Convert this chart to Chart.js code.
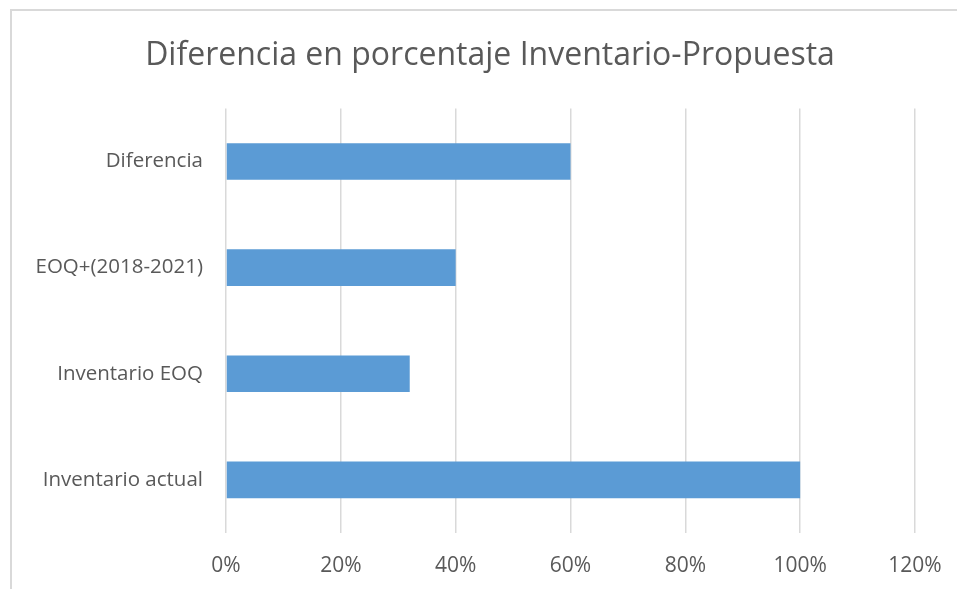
<!DOCTYPE html>
<html>
<head>
<meta charset="utf-8">
<script src="https://cdn.jsdelivr.net/npm/chart.js@4/dist/chart.umd.min.js"></script>
<style>
    html, body { margin: 0; padding: 0; background: #ffffff; overflow: hidden; }
    #frame {
        position: absolute; left: 10px; top: 9px; width: 1200px; height: 900px;
        border-left: 2px solid #d9d9d9; border-top: 2px solid #d9d9d9;
    }
    #wrap { position: absolute; left: 0; top: 0; width: 957px; height: 589px; }
</style>
</head>
<body>
<div id="frame"></div>
<div id="wrap"><canvas id="diffChart" width="957" height="589"></canvas></div>
<script>
    // chart data, top to bottom as in the picture
    const categories = ["Diferencia", "EOQ+(2018-2021)", "Inventario EOQ", "Inventario actual"];
    const percentValues = [60, 40, 32, 100];
    const tickLabels = ["0%", "20%", "40%", "60%", "80%", "100%", "120%"];

    const textColor = "#595959";
    const fontFamily = "'Open Sans', 'Liberation Sans', sans-serif";

    // the original chart frame is wider than the screenshot, so centre the title over it
    const widenTitle = {
        id: "widenTitle",
        afterLayout(chart) {
            const t = chart.titleBlock;
            if (t) {
                t.left = 0;
                t.right = 980;
                t.width = 980;
            }
        }
    };

    const ctx = document.getElementById("diffChart").getContext("2d");
    new Chart(ctx, {
        type: "bar",
        data: {
            labels: categories,
            datasets: [{
                data: percentValues,
                backgroundColor: "#5b9bd5",
                borderWidth: 0,
                categoryPercentage: 1,
                barPercentage: 0.345
            }]
        },
        options: {
            indexAxis: "y",
            responsive: false,
            animation: false,
            layout: { padding: { left: 0, right: 42, top: 0, bottom: 0 } },
            plugins: {
                legend: { display: false },
                tooltip: { enabled: false },
                title: {
                    display: true,
                    text: "Diferencia en porcentaje Inventario-Propuesta",
                    color: textColor,
                    font: { family: fontFamily, size: 32, weight: "normal" },
                    padding: { top: 37, bottom: 33 }
                }
            },
            scales: {
                x: {
                    min: 0,
                    max: 120,
                    ticks: {
                        stepSize: 20,
                        color: textColor,
                        padding: 20,
                        font: { family: fontFamily, size: 21 },
                        callback: (value, i) => tickLabels[i]
                    },
                    grid: { color: "#d9d9d9", lineWidth: 1.5, drawTicks: false },
                    border: { display: false },
                    afterFit: scale => {
                        scale.height = 56;
                        scale.paddingLeft = 0;
                        scale.paddingRight = 0;
                    }
                },
                y: {
                    ticks: {
                        color: textColor,
                        padding: 23,
                        font: { family: fontFamily, size: 20.5 }
                    },
                    grid: { display: false, drawTicks: false },
                    border: { display: false },
                    afterFit: scale => { scale.width = 226; }
                }
            }
        },
        plugins: [widenTitle]
    });
</script>
</body>
</html>
